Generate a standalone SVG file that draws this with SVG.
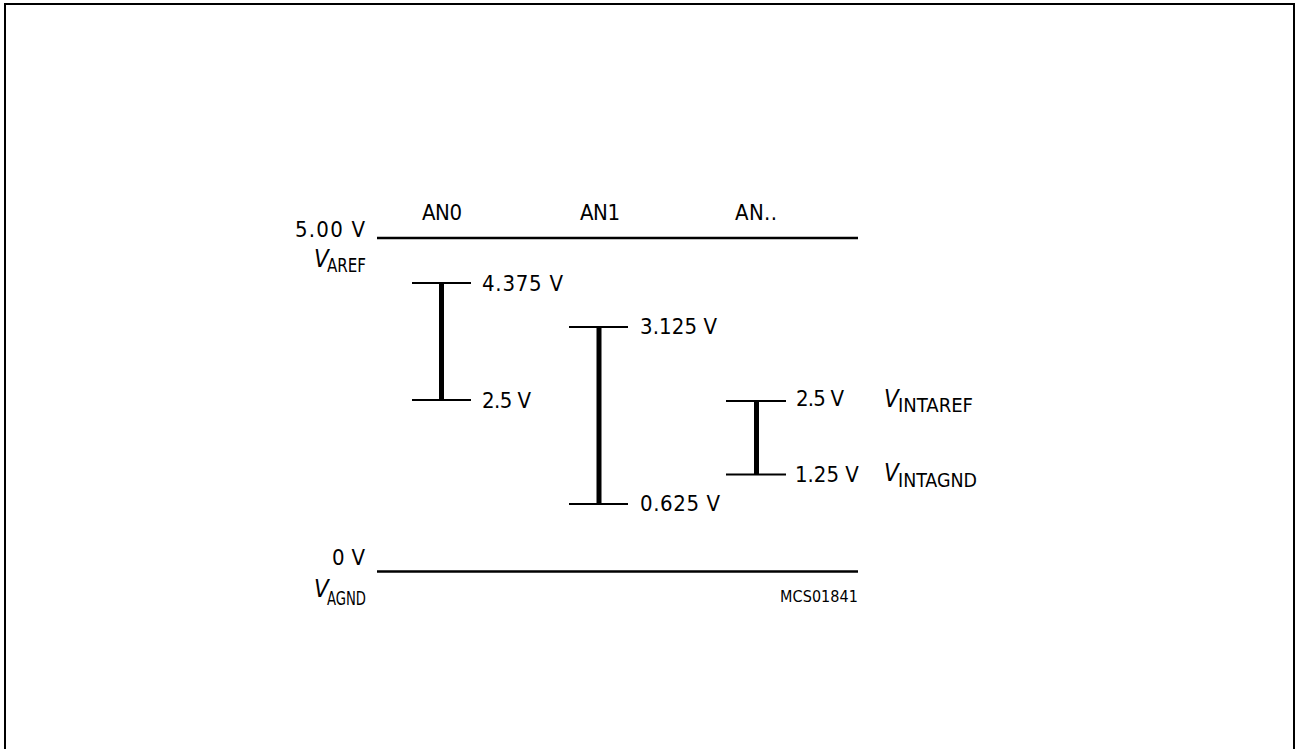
<svg xmlns="http://www.w3.org/2000/svg" width="1295" height="749" viewBox="0 0 1295 749">
<style>
text{font-family:"DejaVu Sans Condensed","Liberation Sans",sans-serif;font-size:22px;fill:#000}
.sm{font-size:16px}
.it{font-style:italic;font-size:24px}
.sub{font-size:20px}
.rail{stroke:#000;stroke-width:2.5;fill:none}
.tick{stroke:#000;stroke-width:2.2;fill:none}
.bar{stroke:#000;stroke-width:5;fill:none}
</style>
<rect x="5" y="4" width="1289" height="760" fill="#fff" stroke="#000" stroke-width="2"/>
<g id="connectors">
<line class="rail" x1="377" y1="238" x2="858" y2="238"/>
<line class="rail" x1="377" y1="571.5" x2="858" y2="571.5"/>
</g>
<g id="vref-labels">
<text x="295" y="237" textLength="70" lengthAdjust="spacing">5.00 V</text>
<text x="314" y="267" class="it">V</text>
<text x="327" y="272" class="sub" textLength="39" lengthAdjust="spacingAndGlyphs">AREF</text>
<text x="332" y="565" textLength="33" lengthAdjust="spacing">0 V</text>
<text x="314" y="597" class="it">V</text>
<text x="327" y="605" class="sub" textLength="39" lengthAdjust="spacingAndGlyphs">AGND</text>
<text x="780" y="602" class="sm" textLength="78" lengthAdjust="spacing">MCS01841</text>
</g>
<g id="an0">
<text x="422" y="220" textLength="40" lengthAdjust="spacing">AN0</text>
<line class="tick" x1="412" y1="283" x2="471" y2="283"/>
<line class="tick" x1="412" y1="400" x2="471" y2="400"/>
<line class="bar" x1="441.5" y1="283" x2="441.5" y2="400"/>
<text x="482" y="291" textLength="81" lengthAdjust="spacing">4.375 V</text>
<text x="482" y="408" textLength="49" lengthAdjust="spacing">2.5 V</text>
</g>
<g id="an1">
<text x="580" y="220" textLength="40" lengthAdjust="spacing">AN1</text>
<line class="tick" x1="569" y1="327" x2="628" y2="327"/>
<line class="tick" x1="569" y1="504" x2="628" y2="504"/>
<line class="bar" x1="599" y1="327" x2="599" y2="504"/>
<text x="640" y="334" textLength="77" lengthAdjust="spacing">3.125 V</text>
<text x="640" y="511" textLength="80" lengthAdjust="spacing">0.625 V</text>
</g>
<g id="an-other">
<text x="735" y="220" textLength="42" lengthAdjust="spacing">AN..</text>
<line class="tick" x1="726" y1="401" x2="786" y2="401"/>
<line class="tick" x1="726" y1="474.5" x2="786" y2="474.5"/>
<line class="bar" x1="756.5" y1="401" x2="756.5" y2="474.5"/>
<text x="796" y="406" textLength="48" lengthAdjust="spacing">2.5 V</text>
<text x="795" y="482">1.25 V</text>
<text x="884" y="407" class="it">V</text>
<text x="898" y="412" class="sub" textLength="75" lengthAdjust="spacingAndGlyphs">INTAREF</text>
<text x="884" y="481" class="it">V</text>
<text x="898" y="487" class="sub" textLength="79" lengthAdjust="spacingAndGlyphs">INTAGND</text>
</g>
</svg>
